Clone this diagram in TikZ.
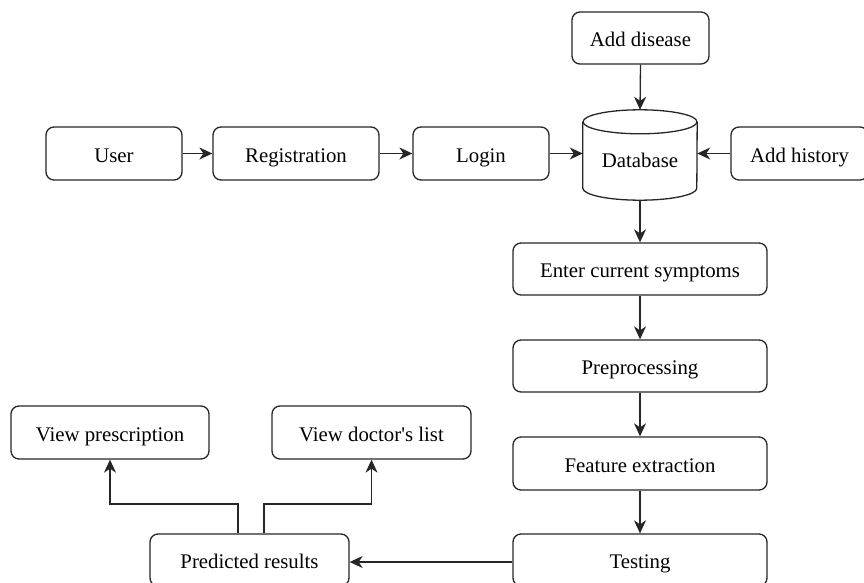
\documentclass[tikz,border=0pt]{standalone}
\usepackage{fontspec}
\newfontfamily\tnr{Liberation Serif}
\usetikzlibrary{arrows.meta,calc}
\begin{document}
\begin{tikzpicture}[x=1pt,y=-1pt,
  ln/.style={line width=1.3pt,draw=black!85},
  txt/.style={inner sep=0pt,text height=17pt,text depth=0pt,font=\tnr\fontsize{20.8}{25}\selectfont},
  box/.style={ln,txt,rounded corners=8pt},
  arr/.style={ln,-{Stealth[length=13pt,width=12pt,inset=4pt]}}]
\useasboundingbox (0,0) rectangle (864,583);
\clip (0,0) rectangle (864,583);
\node[box,minimum width=137pt,minimum height=52pt] (adddis) at (640.5,38) {Add disease};
\node[box,minimum width=136pt,minimum height=53pt] (user) at (114,153.5) {User};
\node[box,minimum width=166pt,minimum height=53pt] (reg) at (296,153.5) {Registration};
\node[box,minimum width=136pt,minimum height=53pt] (login) at (481,153.5) {Login};
\node[inner sep=0pt,minimum width=114pt,minimum height=90pt] (db) at (640,155) {};
\node[box,minimum width=137pt,minimum height=53pt] (addhist) at (799.5,153.5) {Add history};
\node[box,minimum width=254pt,minimum height=52pt] (symp) at (640,269) {Enter current symptoms};
\node[box,minimum width=254pt,minimum height=52pt] (prep) at (640,366) {Preprocessing};
\node[box,minimum width=254pt,minimum height=53pt] (feat) at (640,463.5) {Feature extraction};
\node[box,minimum width=254pt,minimum height=52pt] (test) at (640,560) {Testing};
\node[box,minimum width=199pt,minimum height=52pt] (pred) at (249.5,560) {Predicted results};
\node[box,minimum width=198pt,minimum height=53pt] (presc) at (110,432.5) {View prescription};
\node[box,minimum width=199pt,minimum height=53pt] (doc) at (371.5,432.5) {View doctor's list};
% database cylinder
\draw[ln] ([yshift=-12pt]db.north west) -- ([yshift=12pt]db.south west)
  arc[start angle=180,end angle=360,x radius=57pt,y radius=12pt]
  -- ([yshift=-12pt]db.north east);
\draw[ln] ([yshift=-12pt]db.north) ellipse[x radius=57pt,y radius=12pt];
\node[txt] (dbl) at (640,158.5) {Database};
\coordinate (j) at (0,504);
% connectors
\draw[arr] (user.east) -- (reg.west);
\draw[arr] (reg.east) -- (login.west);
\draw[arr] (login.east) -- (login.east -| db.west);
\draw[arr] (addhist.west) -- (addhist.west -| db.east);
\draw[arr] (adddis.south) -- (db.north);
\draw[arr] (db.south) -- (symp.north);
\draw[arr] (symp.south) -- (prep.north);
\draw[arr] (prep.south) -- (feat.north);
\draw[arr] (feat.south) -- (test.north);
\draw[arr] ([yshift=-2pt]test.west) -- ([yshift=-2pt]test.west -| pred.east);
\draw[arr] ([xshift=-11.5pt]pred.north) |- (j -| presc.south) -- (presc.south);
\draw[arr] ([xshift=14.5pt]pred.north) |- (j -| doc.south) -- (doc.south);
\end{tikzpicture}
\end{document}
